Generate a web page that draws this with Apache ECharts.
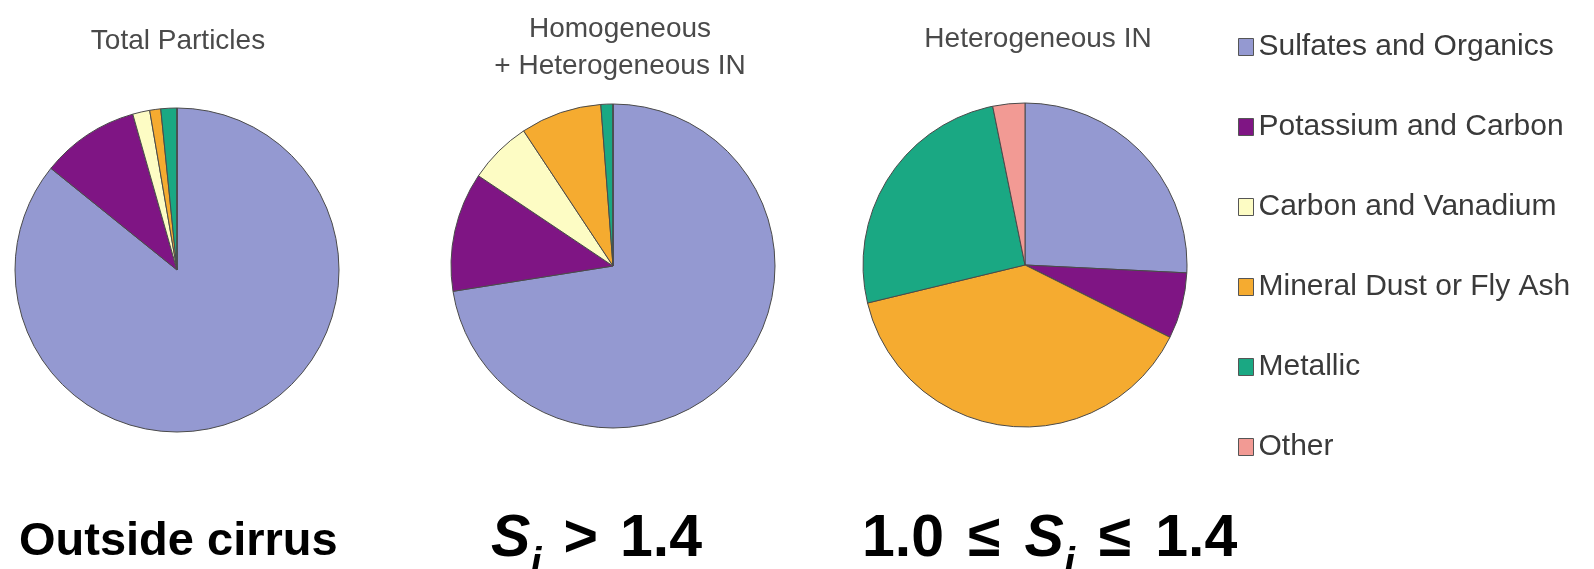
<!DOCTYPE html>
<html>
  <head>
    <title>cirrus pies</title>
    <script src="https://cdn.jsdelivr.net/npm/echarts@6/dist/echarts.min.js"></script>
    <style>
      body { margin: 0; background: #fff; }
    </style>
  </head>
  <body>
    <div id="main" style="width: 1594px; height: 569px"></div>
    <script>
      // categories and shares (%)
      var categories = [
        "Sulfates and Organics",
        "Potassium and Carbon",
        "Carbon and Vanadium",
        "Mineral Dust or Fly Ash",
        "Metallic",
        "Other",
      ];
      var colors = ["#9499d1", "#7f1584", "#fdfcc4", "#f5ab30", "#1aa883", "#f29a94"];
      var totalParticles = [85.8, 9.8, 1.7, 1.1, 1.6, 0];
      var homoHetero = [72.5, 11.9, 6.3, 8.1, 1.2, 0];
      var heteroIN = [25.8, 6.6, 0, 38.9, 25.6, 3.2];
      var pieTitles = ["Total Particles", "Homogeneous\n+ Heterogeneous IN", "Heterogeneous IN"];

      var font = '"Liberation Sans", Arial, sans-serif';
      var chart = echarts.init(document.getElementById("main"));

      function toData(vals) {
        return vals.map(function (v, i) {
          return { name: categories[i], value: v };
        });
      }

      function pie(vals, cx, cy) {
        return {
          type: "pie",
          center: [cx, cy],
          radius: 162,
          startAngle: 90,
          clockwise: true,
          avoidLabelOverlap: false,
          silent: true,
          label: { show: false },
          labelLine: { show: false },
          itemStyle: { borderColor: "#4a4a4a", borderWidth: 1 },
          data: toData(vals),
        };
      }

      // rich styles for the S_i labels under the pies (g = word gap)
      function mathRich(gap) {
        return {
          s: { font: "italic bold 59px " + font, fill: "#000", lineHeight: 90 },
          sub: { font: "italic bold 40px " + font, fill: "#000", verticalAlign: "bottom", lineHeight: 40 },
          t: { font: "bold 59px " + font, fill: "#000", lineHeight: 90 },
          g: { width: gap, lineHeight: 90 },
        };
      }

      var option = {
        animation: false,
        color: colors,
        title: [
          { text: pieTitles[0], left: 173, top: 22, textAlign: "center",
            textStyle: { fontFamily: font, fontSize: 28, fontWeight: "normal", color: "#4a4a4a" } },
          { text: pieTitles[1], left: 615, top: 6, textAlign: "center",
            textStyle: { fontFamily: font, fontSize: 28, fontWeight: "normal", color: "#4a4a4a", lineHeight: 37 } },
          { text: pieTitles[2], left: 1033, top: 20, textAlign: "center",
            textStyle: { fontFamily: font, fontSize: 28, fontWeight: "normal", color: "#4a4a4a" } },
        ],
        legend: {
          orient: "vertical",
          left: 1238,
          top: 32,
          padding: 0,
          itemGap: 50,
          itemWidth: 15,
          itemHeight: 17,
          icon: "rect",
          selectedMode: false,
          data: categories,
          itemStyle: { borderColor: "#555", borderWidth: 1 },
          textStyle: { fontFamily: font, fontSize: 30, color: "#3a3a3a" },
        },
        series: [
          pie(totalParticles, 177, 270),
          pie(homoHetero, 613, 266),
          pie(heteroIN, 1025, 265),
        ],
        graphic: [
          {
            type: "text", x: 19, y: 542,
            style: { text: "Outside cirrus", fill: "#000", font: "bold 47px " + font, verticalAlign: "middle" },
          },
          {
            type: "text", x: 491, y: 540,
            style: { text: "{s|S}{sub|i}{g| }{t|>}{g| }{t|1.4}", verticalAlign: "middle", rich: mathRich(22) },
          },
          {
            type: "text", x: 862, y: 540,
            style: { text: "{t|1.0}{g| }{t|≤}{g| }{s|S}{sub|i}{g| }{t|≤}{g| }{t|1.4}", verticalAlign: "middle", rich: mathRich(24) },
          },
        ],
      };

      chart.setOption(option);
    </script>
  </body>
</html>
